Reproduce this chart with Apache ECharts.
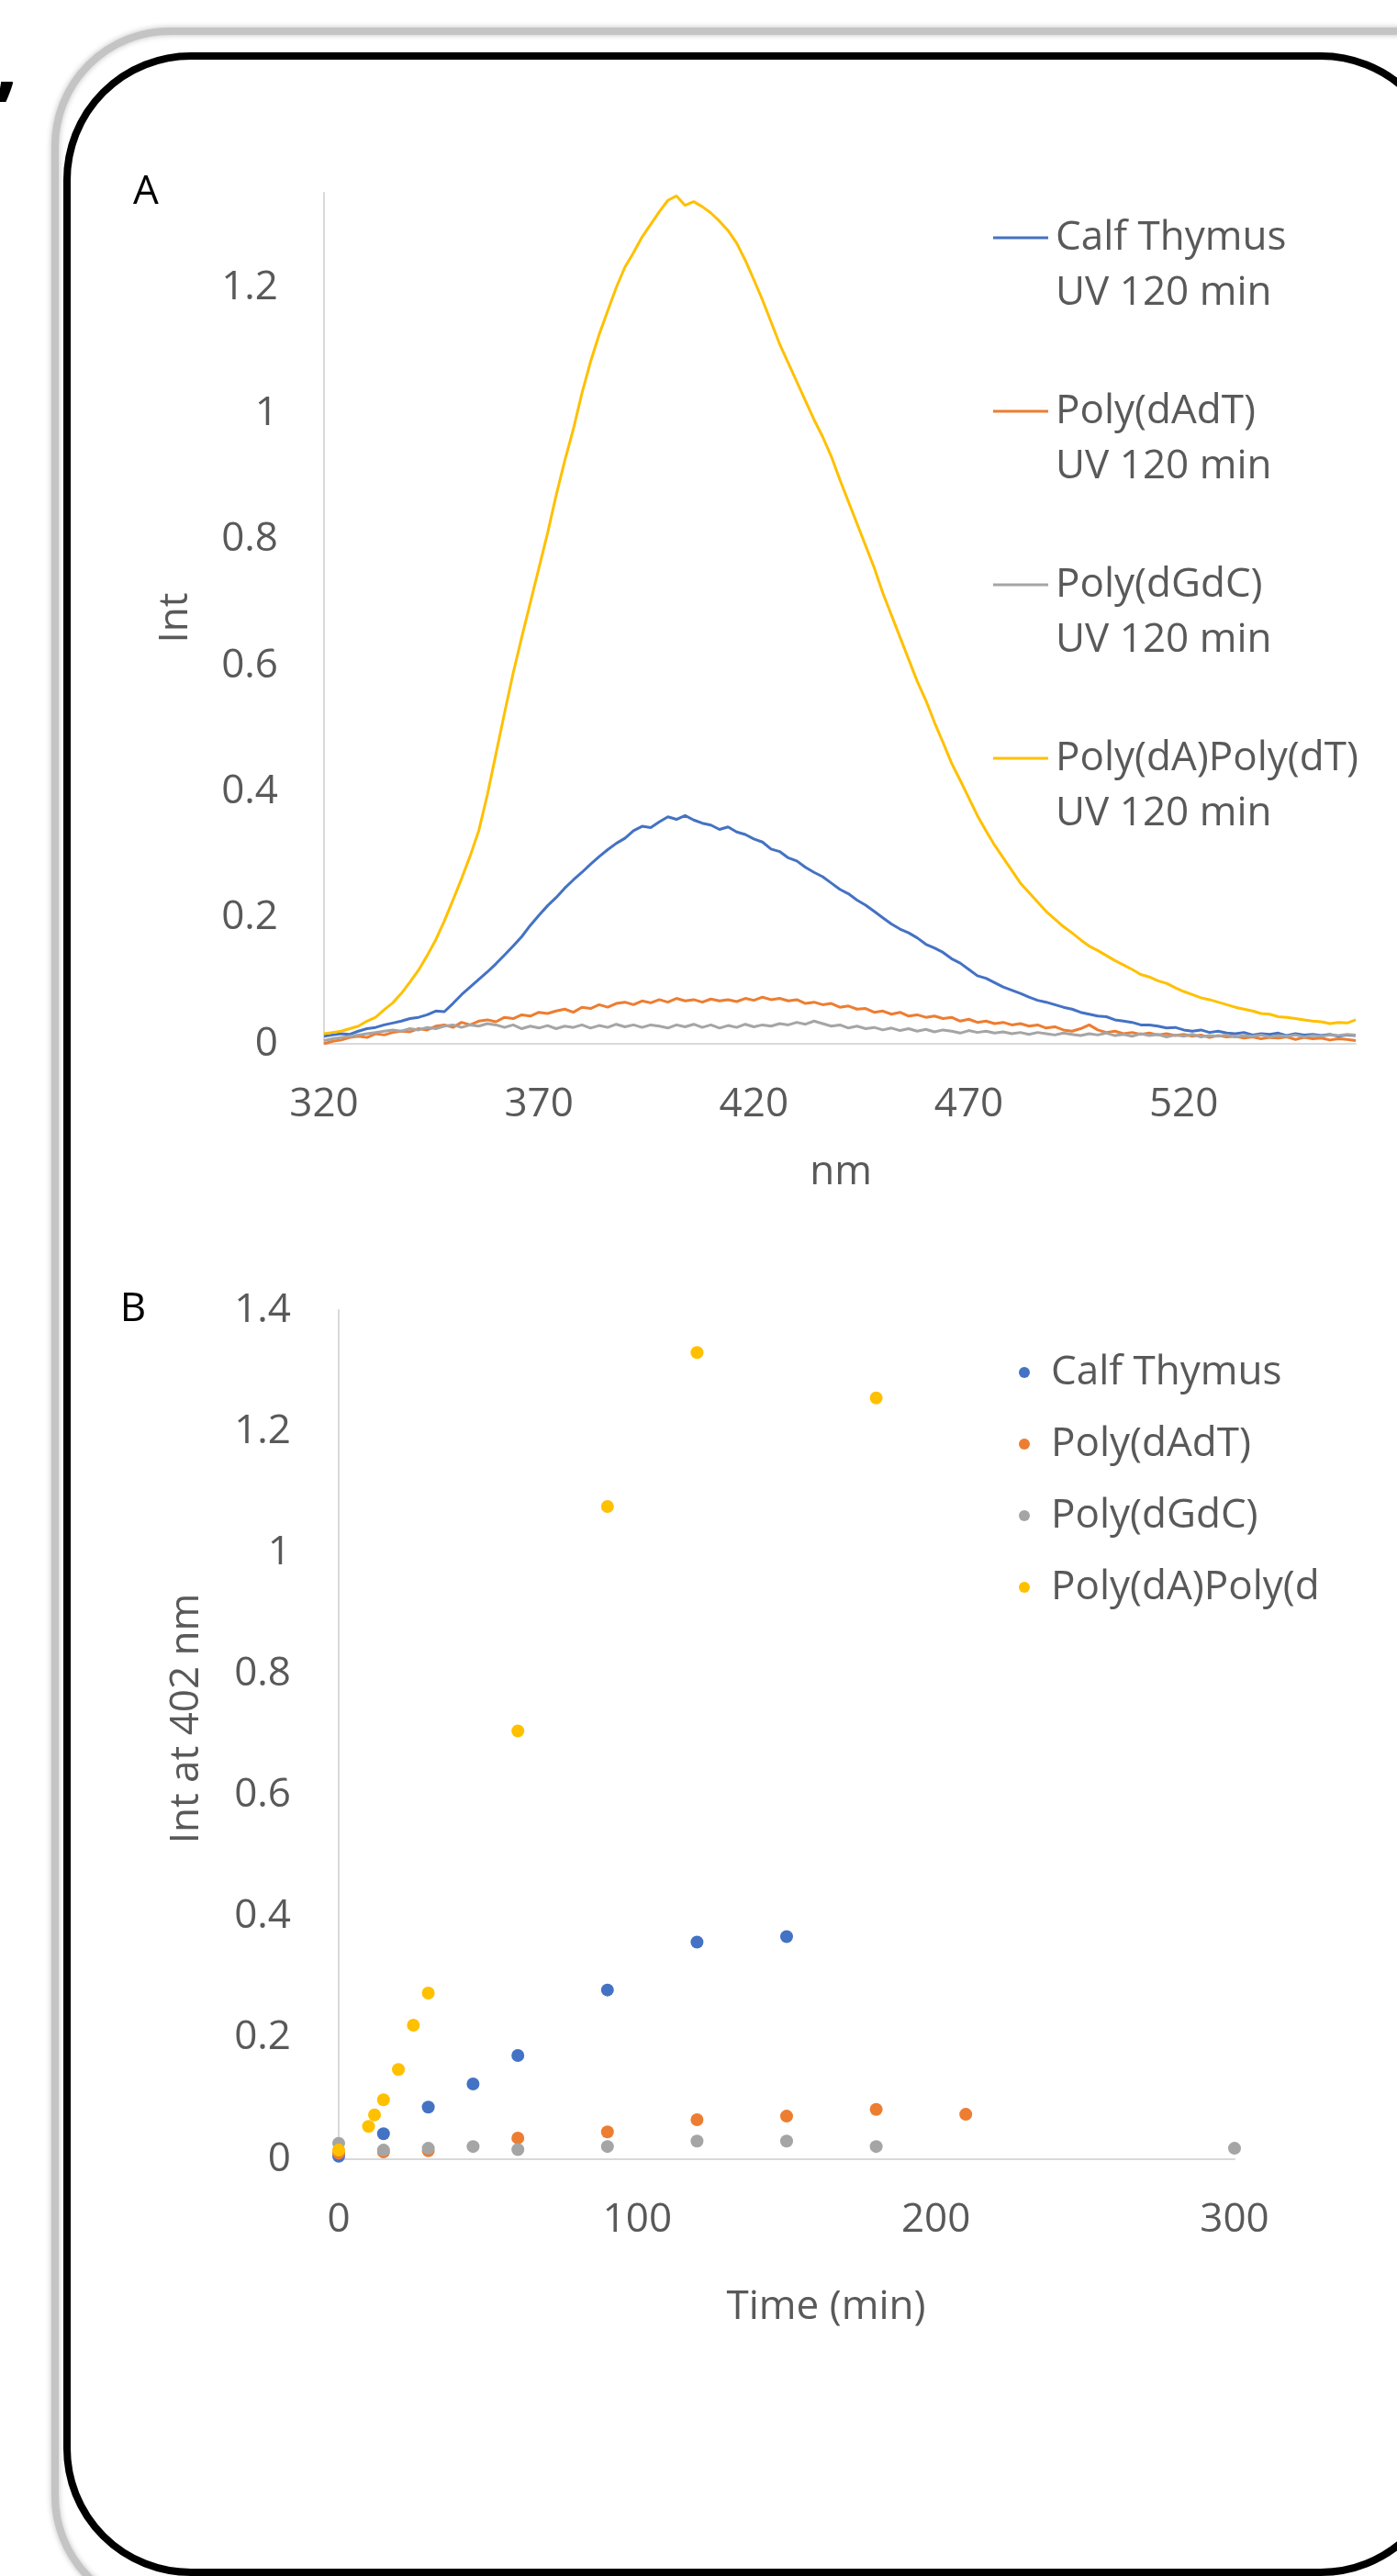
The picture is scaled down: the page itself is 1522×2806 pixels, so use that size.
<!DOCTYPE html>
<html>
<head>
<meta charset="utf-8">
<script src="https://cdn.jsdelivr.net/npm/echarts@6/dist/echarts.min.js"></script>
<style>
html,body{margin:0;padding:0;background:#fff;}
#chart{width:1522px;height:2806px;}
</style>
</head>
<body>
<div id="chart"></div>
<script>
// ---------- Panel A: spectra (nm, 2 nm steps starting at 320) ----------
const WL_START = 320;
const WL_STEP = 2;
const seriesNamesA = ['Calf Thymus', 'Poly(dAdT)', 'Poly(dGdC)', 'Poly(dA)Poly(dT)'];
const legendSubA = 'UV 120 min';
const colors = ['#4472C4', '#ED7D31', '#A5A5A5', '#FFC000'];

const calfThymusSpectrum = [
  0.012,0.014,0.016,0.015,0.02,0.024,0.026,0.03,0.033,0.036,
  0.04,0.042,0.046,0.052,0.051,0.064,0.078,0.09,0.102,0.114,
  0.127,0.141,0.155,0.17,0.188,0.204,0.219,0.232,0.247,0.26,
  0.272,0.285,0.297,0.308,0.318,0.326,0.338,0.345,0.343,0.352,
  0.36,0.356,0.362,0.355,0.35,0.347,0.34,0.344,0.336,0.332,
  0.325,0.32,0.309,0.305,0.295,0.29,0.28,0.272,0.265,0.255,
  0.245,0.238,0.228,0.22,0.21,0.2,0.19,0.182,0.176,0.168,
  0.158,0.152,0.145,0.135,0.128,0.118,0.108,0.104,0.097,0.09,
  0.085,0.08,0.074,0.069,0.066,0.062,0.058,0.055,0.05,0.047,
  0.044,0.043,0.038,0.036,0.034,0.03,0.03,0.028,0.025,0.026,
  0.022,0.02,0.022,0.018,0.02,0.017,0.016,0.018,0.014,0.016,
  0.015,0.017,0.013,0.016,0.014,0.015,0.013,0.015,0.012,0.014,
  0.013
];
const polyDAdTSpectrum = [
  0.0,0.004,0.006,0.01,0.012,0.01,0.016,0.014,0.018,0.02,
  0.019,0.024,0.022,0.028,0.03,0.026,0.034,0.03,0.036,0.038,
  0.035,0.042,0.04,0.046,0.044,0.05,0.048,0.052,0.055,0.05,
  0.058,0.056,0.062,0.058,0.064,0.066,0.062,0.068,0.065,0.07,
  0.066,0.072,0.068,0.07,0.066,0.071,0.068,0.07,0.067,0.072,
  0.069,0.074,0.07,0.072,0.068,0.07,0.064,0.066,0.062,0.064,
  0.058,0.06,0.055,0.056,0.05,0.052,0.047,0.05,0.044,0.046,
  0.042,0.044,0.04,0.042,0.036,0.039,0.034,0.036,0.032,0.034,
  0.03,0.032,0.028,0.03,0.025,0.027,0.022,0.02,0.024,0.03,
  0.022,0.018,0.02,0.016,0.018,0.015,0.017,0.014,0.016,0.013,
  0.015,0.012,0.014,0.01,0.013,0.011,0.012,0.009,0.011,0.008,
  0.01,0.009,0.011,0.007,0.01,0.008,0.009,0.006,0.008,0.007,
  0.005
];
const polyDGdCSpectrum = [
  0.005,0.008,0.01,0.012,0.014,0.016,0.018,0.02,0.022,0.02,
  0.024,0.022,0.026,0.024,0.028,0.03,0.026,0.03,0.028,0.032,
  0.03,0.026,0.03,0.024,0.028,0.025,0.029,0.024,0.028,0.026,
  0.03,0.025,0.029,0.026,0.031,0.027,0.03,0.026,0.03,0.028,
  0.025,0.03,0.027,0.031,0.026,0.03,0.025,0.029,0.026,0.031,
  0.027,0.03,0.028,0.032,0.03,0.034,0.031,0.036,0.032,0.028,
  0.03,0.025,0.028,0.024,0.026,0.022,0.025,0.021,0.024,0.02,
  0.023,0.019,0.022,0.02,0.017,0.021,0.018,0.02,0.017,0.019,
  0.016,0.018,0.015,0.018,0.016,0.014,0.017,0.015,0.013,0.016,
  0.014,0.017,0.013,0.015,0.012,0.016,0.013,0.015,0.011,0.014,
  0.012,0.015,0.011,0.013,0.012,0.014,0.011,0.013,0.012,0.014,
  0.011,0.013,0.012,0.014,0.011,0.013,0.012,0.014,0.013,0.015,
  0.014
];
const polyDAPolyDTSpectrum = [
  0.016,0.018,0.02,0.024,0.028,0.036,0.042,0.054,0.065,0.08,
  0.098,0.117,0.14,0.165,0.195,0.228,0.262,0.298,0.338,0.395,
  0.46,0.525,0.588,0.645,0.7,0.755,0.81,0.87,0.925,0.975,
  1.032,1.082,1.125,1.163,1.2,1.232,1.255,1.28,1.3,1.32,
  1.338,1.345,1.33,1.336,1.328,1.318,1.305,1.29,1.27,1.243,
  1.212,1.18,1.145,1.11,1.08,1.05,1.02,0.99,0.963,0.932,
  0.895,0.86,0.825,0.79,0.755,0.715,0.68,0.645,0.61,0.575,
  0.545,0.51,0.478,0.445,0.418,0.39,0.362,0.338,0.315,0.295,
  0.275,0.255,0.24,0.225,0.21,0.198,0.186,0.176,0.165,0.155,
  0.148,0.14,0.132,0.125,0.118,0.11,0.106,0.1,0.096,0.089,
  0.083,0.078,0.073,0.07,0.066,0.062,0.058,0.055,0.052,0.048,
  0.047,0.043,0.042,0.04,0.038,0.036,0.035,0.032,0.034,0.033,
  0.038
];
const spectraA = [calfThymusSpectrum, polyDAdTSpectrum, polyDGdCSpectrum, polyDAPolyDTSpectrum];

// ---------- Panel B: intensity at 402 nm vs time ----------
const seriesNamesB = ['Calf Thymus', 'Poly(dAdT)', 'Poly(dGdC)', 'Poly(dA)Poly(dT)'];
const calfThymusTime = [0, 15, 30, 45, 60, 90, 120, 150];
const calfThymusInt  = [0.005, 0.042, 0.086, 0.124, 0.171, 0.279, 0.358, 0.367];
const polyDAdTTime = [0, 15, 30, 60, 90, 120, 150, 180, 210];
const polyDAdTInt  = [0.01, 0.012, 0.014, 0.035, 0.045, 0.065, 0.071, 0.082, 0.074];
const polyDGdCTime = [0, 15, 30, 45, 60, 90, 120, 150, 180, 300];
const polyDGdCInt  = [0.026, 0.015, 0.018, 0.021, 0.016, 0.021, 0.03, 0.03, 0.021, 0.018];
const polyDAPolyDTTime = [0, 10, 12, 15, 20, 25, 30, 60, 90, 120, 180];
const polyDAPolyDTInt  = [0.015, 0.054, 0.073, 0.098, 0.148, 0.221, 0.274, 0.706, 1.076, 1.33, 1.255];
const timesB = [calfThymusTime, polyDAdTTime, polyDGdCTime, polyDAPolyDTTime];
const intsB = [calfThymusInt, polyDAdTInt, polyDGdCInt, polyDAPolyDTInt];

// ---------- Axis settings ----------
const axisA = { xMin: 320, xMax: 560, xStep: 50, yMin: 0, yMax: 1.35, yStep: 0.2, showMax: false };
const axisB = { xMin: 0, xMax: 300, xStep: 100, yMin: 0, yMax: 1.4, yStep: 0.2, showMax: true };
const axisTitles = { ax: 'nm', ay: 'Int', bx: 'Time (min)', by: 'Int at 402 nm' };
const panelLabels = ['A', 'B'];

const FONT = '"Open Sans", "Noto Sans", sans-serif';
const TXT = '#595959';
const AXC = '#D9D9D9';
const FS = 44;

const chart = echarts.init(document.getElementById('chart'), null, { renderer: 'canvas', width: 1522, height: 2806 });

function valueAxis(cfg, isX, gridIndex, margin) {
  return {
    type: 'value', gridIndex: gridIndex,
    min: isX ? cfg.xMin : cfg.yMin,
    max: isX ? cfg.xMax : cfg.yMax,
    interval: isX ? cfg.xStep : cfg.yStep,
    axisLine: { show: true, onZero: false, lineStyle: { color: AXC, width: 2 } },
    axisTick: { show: false },
    splitLine: { show: false },
    axisLabel: { color: TXT, fontSize: FS, fontFamily: FONT, margin: margin, showMaxLabel: cfg.showMax, showMinLabel: true }
  };
}

const seriesList = [];
spectraA.forEach((arr, i) => {
  seriesList.push({
    type: 'line', name: seriesNamesA[i] + ' A', xAxisIndex: 0, yAxisIndex: 0,
    showSymbol: false, symbol: 'none', animation: false,
    lineStyle: { color: colors[i], width: 3 }, itemStyle: { color: colors[i] },
    data: arr.map((v, k) => [WL_START + k * WL_STEP, v])
  });
});
intsB.forEach((arr, i) => {
  seriesList.push({
    type: 'scatter', name: seriesNamesB[i], xAxisIndex: 1, yAxisIndex: 1,
    symbol: 'circle', symbolSize: 14, animation: false,
    itemStyle: { color: colors[i], opacity: 1 },
    data: arr.map((v, k) => [timesB[i][k], v])
  });
});

const graphics = [];
graphics.push({
  type: 'rect', z: 0, silent: true,
  shape: { x: 60, y: 34, width: 1600, height: 2810, r: 125 },
  style: { fill: 'none', stroke: '#c4c4c4', lineWidth: 8, shadowBlur: 6, shadowColor: 'rgba(0,0,0,0.25)' }
});
graphics.push({
  type: 'rect', z: 1, silent: true,
  shape: { x: 73, y: 61, width: 1501, height: 2741, r: 135 },
  style: { fill: 'none', stroke: '#000', lineWidth: 8 }
});
graphics.push({ type: 'text', left: -6, top: 28, style: { text: ',', fontSize: 90, fontWeight: 'bold', fontFamily: FONT, fill: '#000' } });
// Legend A (swatch aligned with the first text line)
seriesNamesA.forEach((n, i) => {
  const yc = 259 + i * 189;
  graphics.push({ type: 'line', shape: { x1: 1082, y1: yc, x2: 1142, y2: yc }, style: { stroke: colors[i], lineWidth: 3 } });
  graphics.push({ type: 'text', x: 1150, y: yc - 30,
    style: { text: n + '\n' + legendSubA, fontSize: FS, lineHeight: 60, fontFamily: FONT, fill: TXT, verticalAlign: 'top', align: 'left' } });
});
// Panel labels
graphics.push({ type: 'text', x: 159, y: 209, style: { text: panelLabels[0], fontSize: FS, fontFamily: FONT, fill: '#000', align: 'center', verticalAlign: 'middle' } });
graphics.push({ type: 'text', x: 145, y: 1426, style: { text: panelLabels[1], fontSize: FS, fontFamily: FONT, fill: '#000', align: 'center', verticalAlign: 'middle' } });
// Axis titles
graphics.push({ type: 'text', x: 916, y: 1277, style: { text: axisTitles.ax, fontSize: FS, fontFamily: FONT, fill: TXT, align: 'center', verticalAlign: 'middle' } });
graphics.push({ type: 'text', x: 191, y: 673, rotation: Math.PI / 2, style: { text: axisTitles.ay, fontSize: FS, fontFamily: FONT, fill: TXT, align: 'center', verticalAlign: 'middle' } });
graphics.push({ type: 'text', x: 900, y: 2513, style: { text: axisTitles.bx, fontSize: FS, fontFamily: FONT, fill: TXT, align: 'center', verticalAlign: 'middle' } });
graphics.push({ type: 'text', x: 203, y: 1872, rotation: Math.PI / 2, style: { text: axisTitles.by, fontSize: FS, fontFamily: FONT, fill: TXT, align: 'center', verticalAlign: 'middle' } });

const option = {
  backgroundColor: '#ffffff',
  animation: false,
  grid: [
    { left: 353, top: 210, width: 1124, height: 927, containLabel: false },
    { left: 369, top: 1427, width: 976, height: 925, containLabel: false }
  ],
  xAxis: [valueAxis(axisA, true, 0, 44), valueAxis(axisB, true, 1, 44)],
  yAxis: [valueAxis(axisA, false, 0, 50), valueAxis(axisB, false, 1, 52)],
  legend: {
    data: seriesNamesB.map(n => ({ name: n, icon: 'circle' })),
    orient: 'vertical', left: 1110, top: 1470, padding: 0,
    itemWidth: 48, itemHeight: 12, itemGap: 28,
    textStyle: { color: TXT, fontSize: FS, fontFamily: FONT, lineHeight: 50, width: 317, overflow: 'truncate', ellipsis: '' }
  },
  graphic: graphics,
  series: seriesList
};
chart.setOption(option);
</script>
</body>
</html>
